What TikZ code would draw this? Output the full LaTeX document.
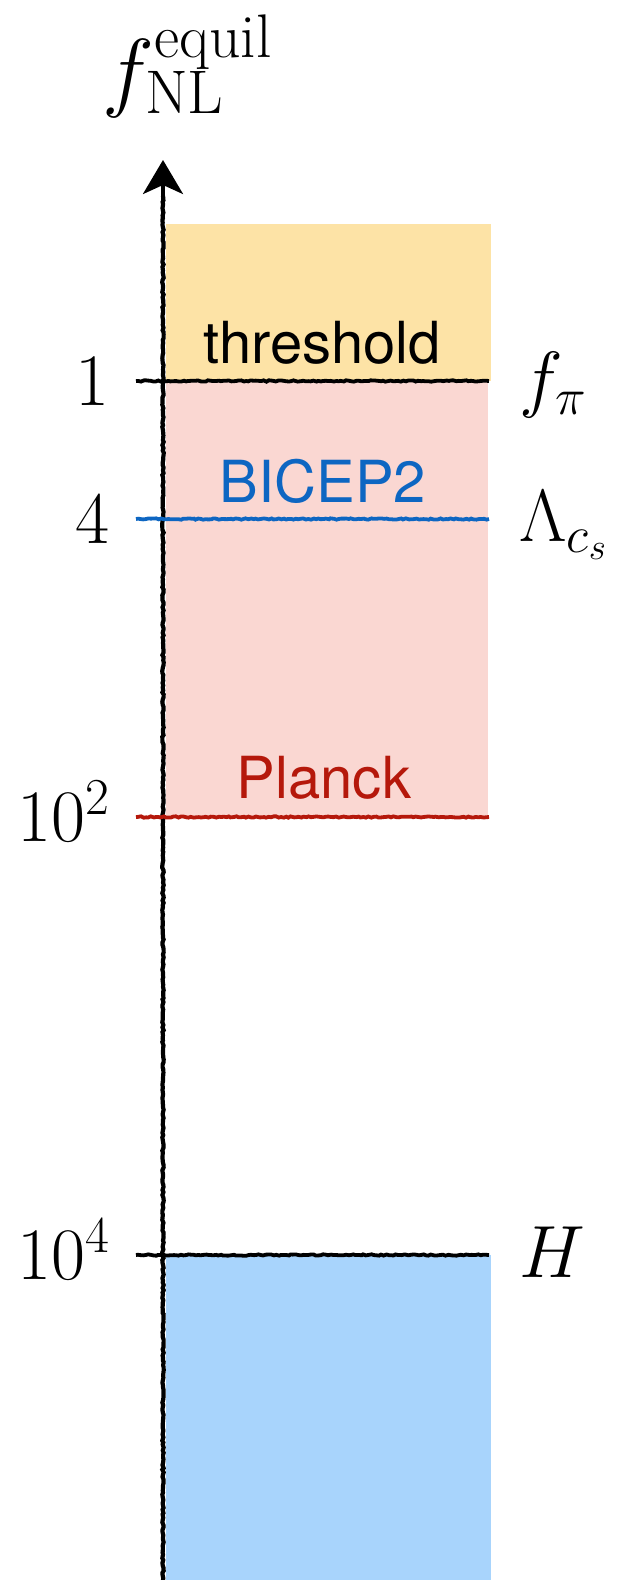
\RequirePackage{fix-cm}
\documentclass[tikz,border=0pt]{standalone}
\usepackage{fontspec}
\newfontfamily\heros{TeX Gyre Heros}
\usepackage{tikz}
\usetikzlibrary{arrows.meta,decorations.pathmorphing}
\definecolor{thrfill}   {HTML}{FDE3A6}
\definecolor{bandfill}  {HTML}{FAD7D2}
\definecolor{hubfill}   {HTML}{A8D4FC}
\definecolor{bicep}     {HTML}{0D66C2}
\definecolor{planck}    {HTML}{B5180B}
\tikzset{sketch/.style={decorate,line width=4.2pt,
           decoration={random steps,segment length=2.5pt,amplitude=0.7pt}},
         explabel/.style={font=\heros\fontsize{58}{62}\selectfont,anchor=base},
         scalelabel/.style={font=\fontsize{74}{80}\selectfont}}

\begin{document}
\begin{tikzpicture}[x=1pt,y=-1pt]
  \useasboundingbox (0,0) rectangle (624,1580);
  % bands
  \fill[thrfill]  (166,224)  rectangle (491,381);
  \fill[bandfill] (166,381)  rectangle (488,817);
  \fill[hubfill]  (166,1255) rectangle (491,1580);
  % axis
  \coordinate (axbot) at (163,1580);
  \coordinate (axmid) at (163,196);
  \coordinate (axtop) at (163,160);
  \draw[sketch] (axbot) -- (axmid);
  \draw[line width=3.5pt,-{Stealth[length=34pt,width=40pt,inset=9pt]}] (163,206) -- (axtop);
  \node[anchor=base west,font=\fontsize{88}{96}\selectfont] (title) at (99,100)
       {$f_{\mathrm{NL}}^{\mathrm{equil}}$};
  % levels
  \foreach \name/\y/\col/\lbl in {one/381/black/1,four/519/bicep/4,
                                  hundred/817/planck/10^2,tenk/1255/black/10^4}{
    \coordinate (a-\name) at (136,\y);
    \coordinate (b-\name) at (489,\y);
    \draw[sketch,color=\col,line width=3.8pt] (a-\name) -- (b-\name);
    \node[scalelabel,anchor=base east] (l-\name) at (113,\y+24) {$\lbl$};}
  \foreach \name/\y/\lbl in {one/381/f_\pi,four/519/\Lambda_{c_s},tenk/1255/H}{
    \node[scalelabel,anchor=base west] (r-\name) at (516,\y+22) {$\lbl$};}
  \node[explabel] (thr)    at (322,363) {threshold};
  \node[explabel,color=bicep]  (bicep2) at (323,502) {BICEP2};
  \node[explabel,color=planck] (plk)    at (324,798) {Planck};
\end{tikzpicture}
\end{document}
